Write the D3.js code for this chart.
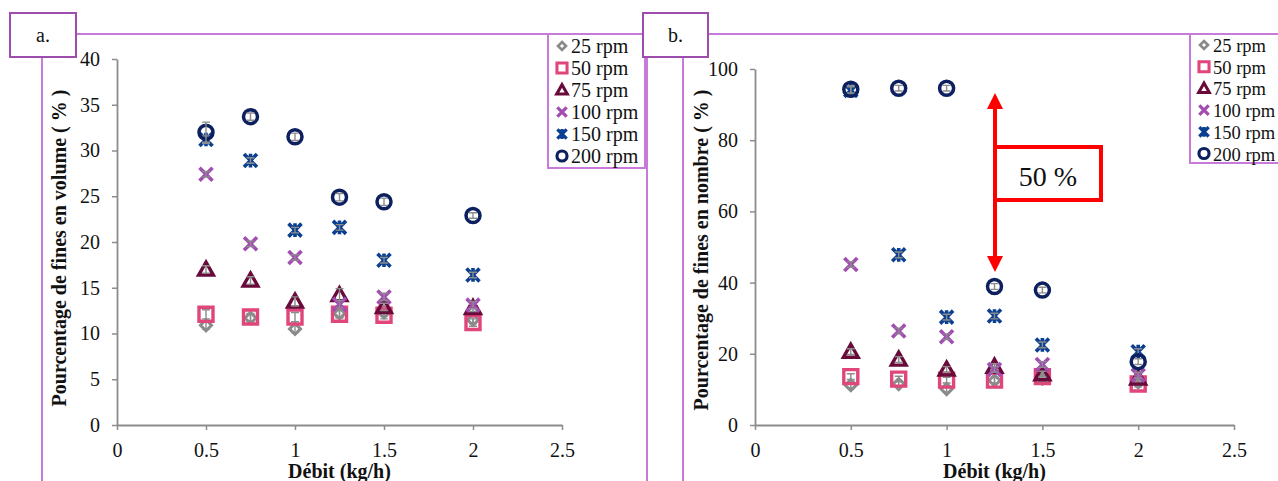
<!DOCTYPE html>
<html><head><meta charset="utf-8">
<script src="https://cdn.jsdelivr.net/npm/d3@7"></script>
</head>
<body style="margin:0;padding:0;background:#fff">
<svg id="chart" width="1278" height="481" style="display:block"></svg>
<script>
// ---------------- DATA ----------------
const flowRates = [0.5, 0.75, 1.0, 1.25, 1.5, 2.0];
const seriesNames = ["25 rpm", "50 rpm", "75 rpm", "100 rpm", "150 rpm", "200 rpm"];
const xTicks = [0, 0.5, 1, 1.5, 2, 2.5];
const yTicksVolume = [0, 5, 10, 15, 20, 25, 30, 35, 40];
const yTicksNombre = [0, 20, 40, 60, 80, 100];

// Panel a: % fines en volume
const volume25  = [10.9, 11.7, 10.5, 12.2, 12.3, 11.5];
const volume50  = [12.1, 11.8, 11.8, 12.1, 12.0, 11.2];
const volume75  = [17.0, 15.8, 13.5, 14.2, 12.9, 12.8];
const volume100 = [27.4, 19.8, 18.3, 13.2, 14.0, 13.1];
const volume150 = [31.2, 28.9, 21.3, 21.6, 18.0, 16.4];
const volume200 = [32.0, 33.7, 31.5, 24.9, 24.4, 22.9];
const volumeErr25  = [0.4, 0.4, 0.4, 0.4, 0.4, 0.4];
const volumeErr50  = [0.5, 0.4, 0.5, 0.4, 0.4, 0.4];
const volumeErr75  = [0.4, 0.4, 0.5, 0.7, 0.4, 0.4];
const volumeErr100 = [0.3, 0.3, 0.3, 0.4, 0.4, 0.4];
const volumeErr150 = [0.4, 0.3, 0.3, 0.3, 0.3, 0.3];
const volumeErr200 = [1.1, 0.4, 0.4, 0.4, 0.4, 0.3];

// Panel b: % fines en nombre
const nombre25  = [11.2, 11.5, 10.1, 12.5, 13.0, 12.0];
const nombre50  = [13.6, 12.9, 12.6, 12.6, 13.6, 11.5];
const nombre75  = [20.6, 18.4, 15.6, 16.4, 14.3, 13.1];
const nombre100 = [45.1, 26.4, 24.8, 15.6, 17.0, 14.0];
const nombre150 = [94.0, 47.8, 30.3, 30.6, 22.5, 20.6];
const nombre200 = [94.3, 94.6, 94.6, 38.9, 37.9, 17.8];
const nombreErr25  = [0.8, 0.8, 0.8, 0.8, 0.8, 0.8];
const nombreErr50  = [0.8, 0.8, 0.8, 0.8, 0.8, 0.8];
const nombreErr75  = [0.8, 0.8, 0.8, 0.8, 0.8, 0.8];
const nombreErr100 = [0.8, 0.8, 0.8, 0.8, 0.8, 0.8];
const nombreErr150 = [1.0, 0.8, 0.8, 0.8, 0.8, 0.8];
const nombreErr200 = [1.0, 0.8, 0.8, 0.8, 0.8, 0.8];

const seriesColors = ["#8a8a8a", "#e0457b", "#6a0a3a", "#a34db3", "#0a3f91", "#0c1f5e"];
const seriesShapes = ["diamond", "square", "triangle", "cross", "star", "circle"];

// ---------------- DRAW ----------------
const FONT = '"Liberation Serif"';
const svg = d3.select("#chart").attr("font-family", FONT);
const frameColor = "#c77ad9";
const boxColor = "#9e4cad";
const axisColor = "#8c8c8c";

function markerPath(shape, s) {
  const h = s / 2;
  switch (shape) {
    case "diamond": return `M0,${-h}L${h},0L0,${h}L${-h},0Z`;
    case "square": return `M${-h},${-h}H${h}V${h}H${-h}Z`;
    case "triangle": return `M0,${-h*1.05}L${h*1.05},${h*0.8}L${-h*1.05},${h*0.8}Z`;
    case "cross": return `M${-h},${-h}L${h},${h}M${h},${-h}L${-h},${h}`;
    case "star": return `M${-h},${-h}L${h},${h}M${h},${-h}L${-h},${h}M0,${-h*1.05}V${h*1.05}`;
    case "circle": return `M${h},0A${h},${h},0,1,1,${-h},0A${h},${h},0,1,1,${h},0Z`;
  }
}
const markerSize = {diamond: 11, square: 14, triangle: 14, cross: 13, star: 13, circle: 14};
const markerWidth = {diamond: 3, square: 3.4, triangle: 3.4, cross: 3.6, star: 3.6, circle: 3.5};

function addText(parent, x, y, str, size, opts = {}) {
  const t = parent.append("text").attr("x", x).attr("y", y)
    .attr("font-family", FONT).attr("font-size", size).attr("fill", "#111").text(str);
  if (opts.anchor) t.attr("text-anchor", opts.anchor);
  if (opts.bold) t.attr("font-weight", "bold");
  if (opts.transform) t.attr("transform", opts.transform);
  return t;
}

function drawPanel(cfg) {
  const x = d3.scaleLinear().domain([0, 2.5]).range([cfg.x0, cfg.x1]);
  const y = d3.scaleLinear().domain([0, cfg.yMax]).range([cfg.yBottom, cfg.yTop]);

  const xAxis = svg.append("g").attr("transform", `translate(0,${cfg.yBottom})`)
    .call(d3.axisBottom(x).tickValues(xTicks).tickSize(5).tickSizeOuter(0).tickPadding(13)
      .tickFormat(d => String(d)));
  const yAxis = svg.append("g").attr("transform", `translate(${cfg.x0},0)`)
    .call(d3.axisLeft(y).tickValues(cfg.yTicks).tickSize(5).tickSizeOuter(0).tickPadding(12)
      .tickFormat(d => String(d)));
  [xAxis, yAxis].forEach(a => {
    a.attr("font-family", FONT).attr("font-size", 20);
    a.select(".domain").attr("stroke", axisColor).attr("stroke-width", 1.8);
    a.selectAll(".tick line").attr("stroke", axisColor).attr("stroke-width", 1.5);
    a.selectAll(".tick text").attr("fill", "#111").attr("font-family", FONT).attr("font-size", 20);
  });

  // series
  cfg.series.forEach((vals, i) => {
    const errs = cfg.errors[i];
    const g = svg.append("g");
    g.selectAll("path.m").data(flowRates).enter().append("path")
      .attr("class", "m")
      .attr("transform", (d, j) => `translate(${x(d)},${y(vals[j])})`)
      .attr("d", markerPath(seriesShapes[i], markerSize[seriesShapes[i]]))
      .attr("fill", "none").attr("stroke", seriesColors[i])
      .attr("stroke-width", markerWidth[seriesShapes[i]]);
    g.selectAll("path.e").data(flowRates).enter().append("path")
      .attr("class", "e")
      .attr("d", (d, j) => {
        const cx = x(d), yt = y(vals[j] + errs[j]), yb = y(vals[j] - errs[j]);
        return `M${cx},${yt}V${yb}M${cx - 4},${yt}H${cx + 4}M${cx - 4},${yb}H${cx + 4}`;
      })
      .attr("fill", "none").attr("stroke", "#8c8c8c").attr("stroke-width", 1.4);
  });

  // axis titles
  addText(svg, (cfg.x0 + cfg.x1) / 2, 478, "Débit (kg/h)", 20, {anchor: "middle", bold: true});
  addText(svg, 0, 0, cfg.yTitle, 20, {anchor: "middle", bold: true,
    transform: `translate(${cfg.titleX},${cfg.titleY}) rotate(-90)`});

  // legend
  const lg = svg.append("g");
  lg.append("rect").attr("x", cfg.legX).attr("y", 34).attr("width", cfg.legW).attr("height", cfg.legH)
    .attr("fill", "#fff").attr("stroke", frameColor).attr("stroke-width", 2);
  seriesNames.forEach((name, i) => {
    const yy = cfg.legRow0 + i * cfg.legStep;
    const sh = seriesShapes[i];
    lg.append("path").attr("transform", `translate(${cfg.legX + 14},${yy})`)
      .attr("d", markerPath(sh, markerSize[sh] * 0.72))
      .attr("fill", "none").attr("stroke", seriesColors[i])
      .attr("stroke-width", markerWidth[sh] * 0.9);
    addText(lg, cfg.legX + 23, yy + 7, name, cfg.legFont);
  });
}

// frames
function line(x1, y1, x2, y2) {
  svg.append("line").attr("x1", x1).attr("y1", y1).attr("x2", x2).attr("y2", y2)
    .attr("stroke", frameColor).attr("stroke-width", 2);
}
line(42, 34, 647, 34); line(42, 34, 42, 481); line(647, 34, 647, 481);
line(683, 34, 1278, 34); line(683, 34, 683, 481);

drawPanel({
  x0: 117, x1: 562, yTop: 59, yBottom: 425, yMax: 40, yTicks: yTicksVolume,
  series: [volume25, volume50, volume75, volume100, volume150, volume200],
  errors: [volumeErr25, volumeErr50, volumeErr75, volumeErr100, volumeErr150, volumeErr200],
  yTitle: "Pourcentage de fines en volume ( % )", titleX: 66, titleY: 248,
  legX: 548, legW: 97, legH: 134, legRow0: 46, legStep: 22, legFont: 20
});
drawPanel({
  x0: 755, x1: 1234, yTop: 69, yBottom: 425, yMax: 100, yTicks: yTicksNombre,
  series: [nombre25, nombre50, nombre75, nombre100, nombre150, nombre200],
  errors: [nombreErr25, nombreErr50, nombreErr75, nombreErr100, nombreErr150, nombreErr200],
  yTitle: "Pourcentage de fines en nombre ( % )", titleX: 708, titleY: 250,
  legX: 1190, legW: 100, legH: 129, legRow0: 45, legStep: 21.7, legFont: 18.5
});

// label boxes
function labelBox(x, w, label) {
  svg.append("rect").attr("x", x).attr("y", 13).attr("width", w).attr("height", 44)
    .attr("fill", "#fff").attr("stroke", boxColor).attr("stroke-width", 2);
  addText(svg, x + w / 2, 42, label, 20, {anchor: "middle"});
}
labelBox(10, 66, "a.");
labelBox(643, 65, "b.");

// red annotation
const red = "#ff0000";
const ann = svg.append("g");
ann.append("line").attr("x1", 995).attr("x2", 995).attr("y1", 106).attr("y2", 258)
  .attr("stroke", red).attr("stroke-width", 4);
ann.append("path").attr("d", "M995,93L1003,109L987,109Z").attr("fill", red);
ann.append("path").attr("d", "M995,272L1003,256L987,256Z").attr("fill", red);
ann.append("rect").attr("x", 995).attr("y", 147).attr("width", 106).attr("height", 53)
  .attr("fill", "#fff").attr("stroke", red).attr("stroke-width", 4);
addText(ann, 1048, 186, "50 %", 28, {anchor: "middle"});
</script>
</body></html>
